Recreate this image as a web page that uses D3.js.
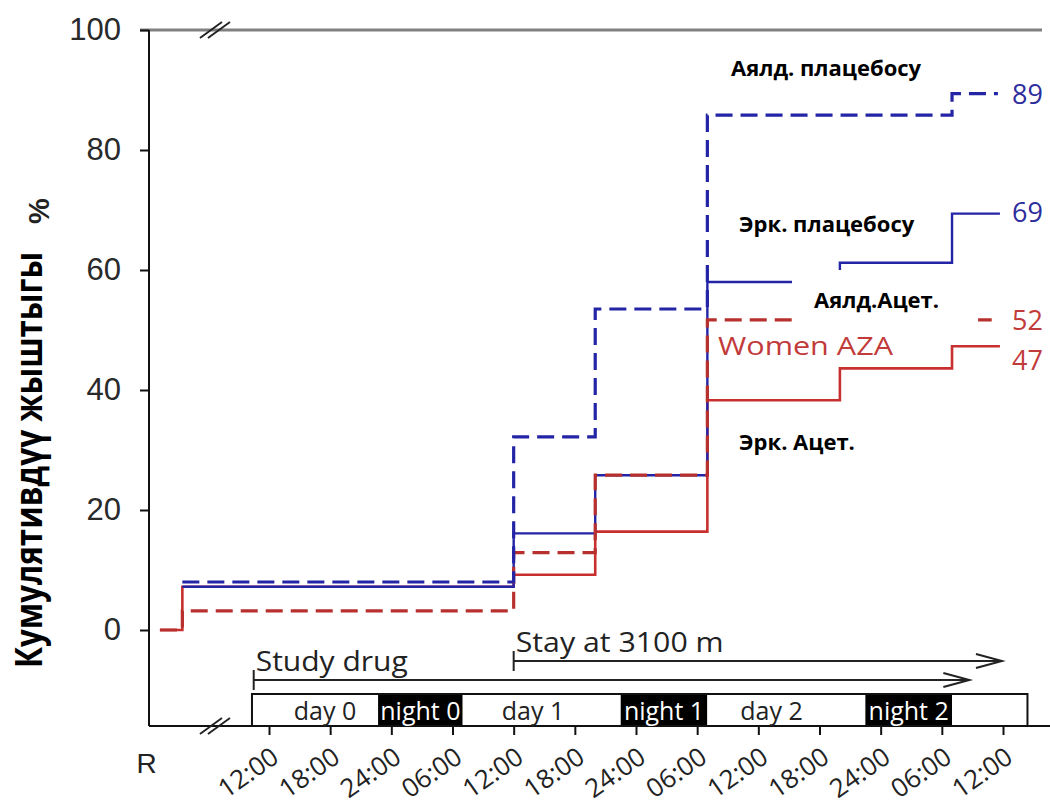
<!DOCTYPE html>
<html><head><meta charset="utf-8">
<script src="https://cdn.jsdelivr.net/npm/d3@7"></script>
<style>body{margin:0;background:#fff}</style>
</head><body>
<svg id="chart" width="1050" height="808"></svg>
<script>
// ---------- data ----------
const tickHours = [0,6,12,18,24,30,36,42,48,54,60,66,72];
const tickLabels = ["12:00","18:00","24:00","06:00","12:00","18:00","24:00","06:00","12:00","18:00","24:00","06:00","12:00"];
const yTickValues = [0,20,40,60,80,100];
const stepHours = [-10.7, -8.5, 24, 32, 43, 56, 67];
const womenPlacebo = [null, 8.0, 32.2, 53.5, 85.8, 85.8, 89.4];
const menPlacebo   = [null, 7.2, 16.1, 25.8, 58.0, 61.2, 69.4];
const womenAZA     = [0, 3.2, 12.9, 25.8, 51.7, 51.7, 51.7];
const menAZA       = [0, 7.2, 9.2, 16.4, 38.3, 43.6, 47.3];
const endHours = [71.5, 71.7, 71.0, 71.7];
const seriesLabels = ["Аялд. плацебосу", "Эрк. плацебосу", "Аялд.Ацет.", "Эрк. Ацет."];
const endLabels = ["89", "69", "52", "47"];
const periodNames = ["day 0","night 0","day 1","night 1","day 2","night 2",""];
const periodStart = [-1.67, 10.7, 19.0, 34.5, 43.0, 58.5, 67.0];
const periodEnd   = [10.7, 19.0, 34.5, 43.0, 58.5, 67.0, 74.4];
const periodIsNight = [false,true,false,true,false,true,false];
const periodLabelHours = [5.5, 14.85, 25.9, 38.75, 49.3, 62.75, 0];
const protocolNames = ["Study drug", "Stay at 3100 m"];
const protocolStart = [-1.5, 24];
const protocolEnd = [68.7, 71.9];

// ---------- setup ----------
const svg = d3.select("#chart");
const x = d3.scaleLinear().domain([0, 72]).range([269, 1003]);
const y = d3.scaleLinear().domain([0, 100]).range([630, 30]);
const axisY = 726;
const BLUE = "#2424a6", RED = "#c8302f", RED_D = "#b8302e";
const LBL_BLUE = "#2d2d9c", LBL_RED = "#c23b3b";

// frame: top line, left axis, bottom axis
svg.append("line").attr("x1",140).attr("x2",1042).attr("y1",y(100)).attr("y2",y(100))
  .attr("stroke","#808080").attr("stroke-width",3);
svg.append("line").attr("x1",149).attr("x2",149).attr("y1",y(100)).attr("y2",axisY)
  .attr("stroke","#111").attr("stroke-width",2);
svg.append("line").attr("x1",149).attr("x2",1050).attr("y1",axisY).attr("y2",axisY)
  .attr("stroke","#111").attr("stroke-width",2);

// break marks
function breakMark(cx, cy){
  [-4,4].forEach(o=>{
    svg.append("line").attr("x1",cx+o-11).attr("y1",cy+8).attr("x2",cx+o+11).attr("y2",cy-8)
      .attr("stroke","#222").attr("stroke-width",2);
  });
}
breakMark(x(-5.3), y(100));
breakMark(x(-5.3), axisY);

// y axis
const gy = svg.append("g").attr("transform","translate(149,0)")
  .call(d3.axisLeft(y).tickValues(yTickValues).tickSize(9).tickPadding(19).tickFormat(d3.format("d")));
gy.select(".domain").remove();
gy.selectAll(".tick line").attr("stroke","#111").attr("stroke-width",2);
gy.selectAll(".tick text").attr("font-family","Liberation Sans, Arial, sans-serif")
  .attr("font-size",31).attr("fill","#2a2a2a");

// x axis
const gx = svg.append("g").attr("transform",`translate(0,${axisY})`)
  .call(d3.axisBottom(x).tickValues(tickHours).tickSize(9).tickFormat((d,i)=>tickLabels[i]));
gx.select(".domain").remove();
gx.selectAll(".tick line").attr("stroke","#111").attr("stroke-width",2);
gx.selectAll(".tick text").attr("font-family","Open Sans, sans-serif").attr("font-size",26)
  .attr("fill","#222").attr("text-anchor","end")
  .attr("transform","translate(11,35) rotate(-35)").attr("dy",0).attr("y",0);

// R label
svg.append("text").attr("x",x(-12)).attr("y",773).attr("text-anchor","middle")
  .attr("font-family","Liberation Sans, Arial, sans-serif").attr("font-size",28).attr("fill","#222").text("R");

// y title & %
svg.append("text").attr("transform","translate(42,460) rotate(-90) scale(1,1.45)")
  .attr("text-anchor","middle").attr("font-family","Open Sans, sans-serif").attr("font-weight","bold")
  .attr("font-size",26).attr("textLength",416).attr("lengthAdjust","spacingAndGlyphs")
  .attr("fill","#000").text("Кумулятивдүү жыштыгы");
svg.append("text").attr("transform","translate(49,211) rotate(-90)")
  .attr("text-anchor","middle").attr("font-family","Liberation Sans, Arial, sans-serif")
  .attr("font-weight","bold").attr("font-size",29).attr("fill","#222").text("%");

// ---------- timeline box ----------
const boxTop = 694;
const periods = periodNames.map((n,i)=>({n, s:periodStart[i], e:periodEnd[i], night:periodIsNight[i], lx:periodLabelHours[i]}));
svg.selectAll("rect.period").data(periods).join("rect").attr("class","period")
  .attr("x",d=>x(d.s)).attr("y",boxTop).attr("width",d=>x(d.e)-x(d.s)).attr("height",axisY-boxTop)
  .attr("fill",d=>d.night?"#000":"#fff");
svg.append("rect").attr("x",x(periodStart[0])).attr("y",boxTop)
  .attr("width",x(periodEnd[periodEnd.length-1])-x(periodStart[0])).attr("height",axisY-boxTop)
  .attr("fill","none").attr("stroke","#111").attr("stroke-width",2);
svg.selectAll("text.period").data(periods.filter(d=>d.n)).join("text").attr("class","period")
  .attr("x",d=>x(d.lx)).attr("y",720).attr("text-anchor","middle")
  .attr("font-family","Open Sans, sans-serif").attr("font-size",25)
  .attr("fill",d=>d.night?"#fff":"#222").text(d=>d.n);

// protocol arrows
const protoY = [680, 661];
const protoTextLen = [152, 208];
protocolNames.forEach((n,i)=>{
  const x0 = x(protocolStart[i]), x1 = x(protocolEnd[i]), yy = protoY[i];
  svg.append("line").attr("x1",x0).attr("x2",x1).attr("y1",yy).attr("y2",yy).attr("stroke","#222").attr("stroke-width",2);
  svg.append("line").attr("x1",x0).attr("x2",x0).attr("y1",yy-10).attr("y2",yy+10).attr("stroke","#222").attr("stroke-width",2);
  svg.append("path").attr("d",`M${x1-26},${yy-7} L${x1},${yy} L${x1-26},${yy+7}`)
    .attr("fill","none").attr("stroke","#222").attr("stroke-width",2);
  svg.append("text").attr("x",x0+2).attr("y",yy-9).attr("font-family","Open Sans, sans-serif")
    .attr("font-size",27).attr("fill","#222").attr("textLength",protoTextLen[i])
    .attr("lengthAdjust","spacingAndGlyphs").text(n);
});

// ---------- series ----------
function pts(vals, endH){
  const p = [];
  vals.forEach((v,i)=>{ if(v!==null) p.push([stepHours[i], v]); });
  p.push([endH, vals[vals.length-1]]);
  return p;
}
const line = d3.line().x(d=>x(d[0])).y(d=>y(d[1])).curve(d3.curveStepAfter);
const series = [
  {vals: menAZA, end: endHours[3], color: RED, dash: null, w: 2.6},
  {vals: menPlacebo, end: endHours[1], color: BLUE, dash: null, w: 2.4},
  {vals: womenAZA, end: endHours[2], color: RED_D, dash: "17,8", w: 3.2},
  {vals: womenPlacebo, end: endHours[0], color: BLUE, dash: "17,8", w: 3.2},
];
series.forEach(s=>{
  svg.append("path").attr("d", line(pts(s.vals, s.end))).attr("fill","none")
    .attr("stroke", s.color).attr("stroke-width", s.w).attr("stroke-dasharray", s.dash);
});

// end value labels
const finals = [womenPlacebo, menPlacebo, womenAZA, menAZA].map(v=>v[v.length-1]);
const endDy = [0, -2, 0, 13];
const endColors = [LBL_BLUE, LBL_BLUE, LBL_RED, LBL_RED];
endLabels.forEach((t,i)=>{
  svg.append("text").attr("x",1012).attr("y",y(finals[i])+endDy[i]).attr("dominant-baseline","central")
    .attr("font-family","Open Sans, sans-serif").attr("font-size",27).attr("fill",endColors[i]).text(t);
});

// Women AZA
svg.append("text").attr("x",718).attr("y",355).attr("font-family","Open Sans, sans-serif")
  .attr("font-size",25).attr("fill",LBL_RED).attr("textLength",175).attr("lengthAdjust","spacingAndGlyphs")
  .text("Women AZA");

// series name labels with white boxes
const labelX = [731, 739, 814, 739];
const labelY = [76, 232, 308, 450];
const labelPad = [[4,4,4,4],[4,4,4,4],[22,39,18,19],[4,4,4,4]]; // l, r, t, b
seriesLabels.forEach((t,i)=>{
  const g = svg.append("g");
  const r = g.append("rect").attr("fill","#fff");
  const tx = g.append("text").attr("x",labelX[i]).attr("y",labelY[i])
    .attr("font-family","Open Sans, sans-serif").attr("font-weight","bold").attr("font-size",22)
    .attr("fill","#000").text(t);
  const bb = tx.node().getBBox();
  const p = labelPad[i];
  r.attr("x",bb.x-p[0]).attr("y",bb.y-p[2]+4).attr("width",bb.width+p[0]+p[1]).attr("height",bb.height+p[2]+p[3]-8);
});
</script>
</body></html>
